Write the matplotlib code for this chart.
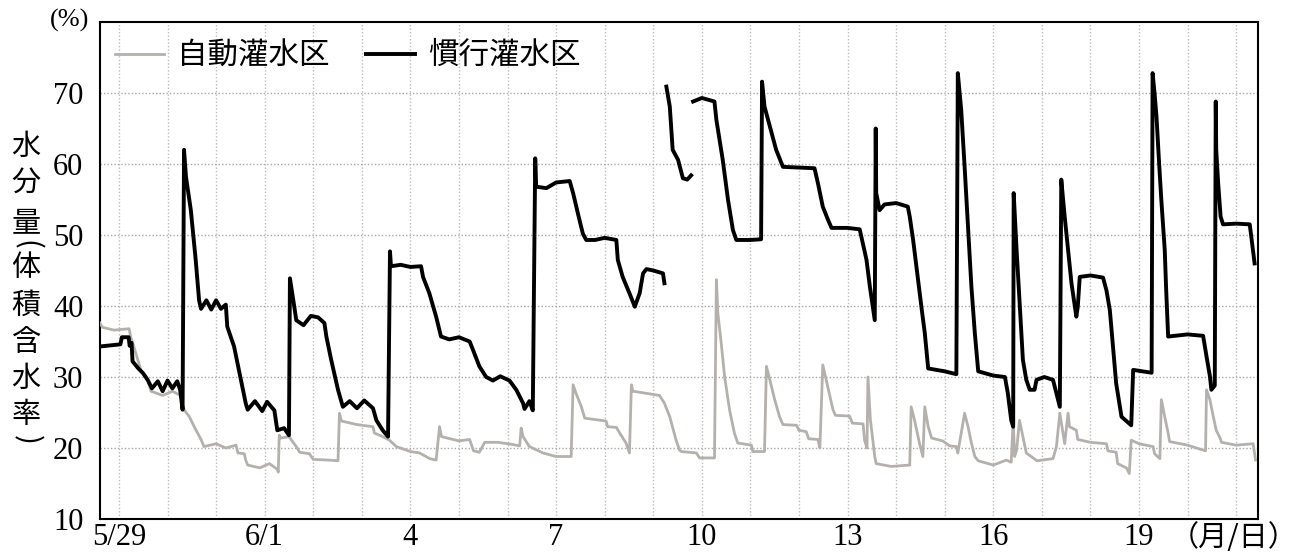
"""Soil water content: automatic vs. conventional irrigation plots."""

import numpy
from matplotlib import pyplot
from matplotlib.font_manager import FontProperties
from matplotlib.ticker import MultipleLocator

nan = numpy.nan

# Days counted from 5/29 0:00, volumetric water content (%).
day_auto = [-0.39, -0.34, -0.10, 0.21, 0.24, 0.35, 0.45, 0.59, 0.66, 0.90,
            1.10, 1.27, 1.34, 1.45, 1.55, 1.69, 1.75, 2.00, 2.20, 2.41,
            2.45, 2.58, 2.61, 2.65, 2.90, 3.10, 3.26, 3.28, 3.30, 3.33,
            3.50, 3.65, 3.72, 3.92, 4.00, 4.30, 4.51, 4.54, 4.58, 4.90,
            5.23, 5.26, 5.43, 5.57, 5.71, 6.00, 6.19, 6.40, 6.53, 6.60,
            6.64, 7.00, 7.22, 7.30, 7.42, 7.53, 7.80, 8.10, 8.25, 8.28,
            8.32, 8.45, 8.73, 9.00, 9.31, 9.35, 9.41, 9.52, 9.59, 10.03,
            10.06, 10.24, 10.31, 10.44, 10.51, 10.55, 10.58, 11.13, 11.23, 11.34,
            11.47, 11.54, 11.58, 11.89, 11.95, 12.26, 12.30, 12.33, 12.40, 12.47,
            12.57, 12.67, 12.74, 13.02, 13.05, 13.29, 13.33, 13.40, 13.50, 13.60,
            13.67, 13.95, 14.00, 14.15, 14.20, 14.39, 14.43, 14.49, 14.56, 14.70,
            14.75, 15.04, 15.10, 15.32, 15.35, 15.40, 15.42, 15.47, 15.56, 15.59,
            15.90, 16.28, 16.31, 16.38, 16.48, 16.55, 16.59, 16.66, 16.73, 16.96,
            17.10, 17.24, 17.27, 17.41, 17.48, 17.55, 17.62, 17.69, 18.00, 18.27,
            18.37, 18.41, 18.44, 18.48, 18.54, 18.61, 18.68, 18.90, 19.23, 19.30,
            19.37, 19.47, 19.54, 19.57, 19.71, 19.74, 20.00, 20.33, 20.36, 20.53,
            20.56, 20.74, 20.80, 20.84, 21.00, 21.29, 21.32, 21.43, 21.46, 21.53,
            21.60, 21.63, 22.00, 22.37, 22.39, 22.46, 22.53, 22.59, 22.67, 22.70,
            23.00, 23.35, 23.40]
val_auto = [37.6, 37.0, 36.6, 36.8, 35.7, 33.3, 31.0, 29.6, 28.0, 27.4,
            28.0, 27.4, 25.4, 24.4, 23.0, 21.2, 20.2, 20.6, 20.0, 20.4,
            19.3, 19.2, 18.3, 17.6, 17.2, 17.8, 17.0, 16.6, 21.8, 21.4,
            21.6, 20.2, 19.4, 19.2, 18.4, 18.3, 18.2, 24.9, 23.8, 23.3,
            23.0, 22.1, 21.6, 21.1, 20.2, 19.5, 19.3, 18.5, 18.3, 23.0,
            21.6, 21.0, 21.2, 19.6, 19.4, 20.8, 20.8, 20.5, 20.3, 22.8,
            21.6, 20.2, 19.3, 18.8, 18.8, 28.9, 27.7, 25.8, 24.2, 23.8,
            23.0, 22.9, 22.1, 20.7, 19.3, 28.9, 28.0, 27.4, 26.3, 24.4,
            21.1, 19.7, 19.5, 19.3, 18.6, 18.6, 43.7, 39.0, 34.7, 30.0,
            25.4, 22.1, 20.7, 20.4, 19.5, 19.5, 31.5, 29.6, 26.8, 24.4,
            23.3, 23.2, 22.5, 22.3, 21.3, 21.2, 20.0, 31.7, 29.6, 25.4,
            24.6, 24.5, 23.5, 23.4, 21.1, 20.0, 30.0, 24.0, 18.8, 17.8,
            17.4, 17.6, 25.8, 23.9, 20.7, 18.8, 25.8, 23.0, 21.4, 21.0,
            20.3, 20.2, 19.3, 24.9, 23.0, 20.7, 18.8, 18.2, 17.6, 18.3,
            18.0, 23.9, 18.8, 19.7, 23.9, 21.6, 19.3, 18.2, 18.5, 20.2,
            24.9, 20.6, 24.9, 23.0, 22.5, 21.2, 20.8, 20.6, 19.6, 19.4,
            17.8, 17.2, 16.4, 21.1, 20.6, 20.2, 19.2, 18.5, 26.8, 24.4,
            22.1, 20.9, 20.4, 19.6, 28.2, 26.8, 24.4, 22.5, 21.4, 20.8,
            20.4, 20.6, 18.3]

day_conv = [-0.39, 0.03, 0.06, 0.20, 0.22, 0.26, 0.28, 0.40, 0.50, 0.59,
            0.68, 0.80, 0.90, 1.00, 1.10, 1.20, 1.26, 1.31, 1.34, 1.38,
            1.48, 1.58, 1.65, 1.69, 1.80, 1.90, 2.00, 2.10, 2.20, 2.23,
            2.37, 2.51, 2.61, 2.65, 2.80, 2.95, 3.05, 3.20, 3.23, 3.26,
            3.40, 3.50, 3.52, 3.61, 3.65, 3.80, 3.95, 4.10, 4.23, 4.27,
            4.37, 4.51, 4.61, 4.75, 4.90, 5.05, 5.23, 5.30, 5.43, 5.54,
            5.58, 5.60, 5.80, 6.00, 6.22, 6.26, 6.39, 6.53, 6.63, 6.80,
            7.00, 7.22, 7.29, 7.42, 7.56, 7.70, 7.85, 8.04, 8.18, 8.32,
            8.35, 8.45, 8.52, 8.57, 8.59, 8.80, 9.00, 9.28, 9.35, 9.45,
            9.55, 9.62, 9.80, 10.00, 10.24, 10.27, 10.37, 10.51, 10.62, 10.72,
            10.79, 10.86, 11.00, 11.20, 11.23, nan, 11.27, 11.34, 11.40, 11.51,
            11.61, 11.70, 11.78, nan, 11.82, 12.00, 12.26, 12.30, 12.43, 12.54,
            12.64, 12.71, 13.00, 13.22, 13.24, 13.29, 13.40, 13.53, 13.67, 14.00,
            14.32, 14.39, 14.49, 14.60, 14.67, 15.00, 15.25, 15.39, 15.46, 15.52,
            15.56, 15.58, 15.59, 15.66, 15.76, 16.00, 16.24, 16.28, 16.35, 16.45,
            16.52, 16.59, 16.66, 17.00, 17.24, 17.27, 17.34, 17.41, 17.48, 17.55,
            17.62, 17.69, 18.00, 18.24, 18.30, 18.37, 18.41, 18.42, 18.48, 18.54,
            18.61, 18.68, 18.75, 18.85, 18.89, 19.05, 19.23, 19.30, 19.37, 19.40,
            19.47, 19.54, 19.61, 19.71, 19.74, 19.78, 20.00, 20.26, 20.33, 20.40,
            20.47, 20.53, 20.64, 20.84, 20.88, 21.26, 21.28, 21.32, 21.36, 21.41,
            21.46, 21.53, 21.56, 21.60, 22.00, 22.32, 22.39, 22.46, 22.49, 22.56,
            22.58, 22.59, 22.63, 22.68, 22.73, 23.00, 23.28, 23.32, 23.38]
val_conv = [34.3, 34.6, 35.6, 35.6, 34.4, 34.8, 32.2, 31.2, 30.5, 29.6,
            28.4, 29.4, 28.0, 29.5, 28.4, 29.4, 28.2, 25.4, 62.0, 58.2,
            53.5, 46.5, 40.8, 39.6, 40.8, 39.5, 40.8, 39.6, 40.2, 37.1,
            34.3, 29.6, 26.3, 25.4, 26.6, 25.2, 26.5, 25.3, 23.9, 22.5,
            22.8, 21.8, 43.9, 39.9, 38.0, 37.3, 38.6, 38.4, 37.6, 35.7,
            32.4, 28.2, 25.8, 26.6, 25.6, 26.7, 25.6, 23.9, 22.5, 21.6,
            47.7, 45.6, 45.8, 45.5, 45.6, 44.1, 41.8, 38.5, 35.7, 35.3,
            35.6, 35.0, 33.8, 31.5, 30.0, 29.5, 30.1, 29.5, 28.2, 26.3,
            25.5, 26.6, 25.3, 60.8, 56.8, 56.6, 57.4, 57.6, 55.9, 53.0,
            50.2, 49.3, 49.3, 49.6, 49.3, 46.5, 44.1, 41.8, 39.9, 41.8,
            44.6, 45.2, 45.0, 44.6, 43.2, nan, 70.9, 68.1, 62.0, 60.6,
            58.0, 57.8, 58.4, nan, 68.8, 69.3, 68.8, 66.2, 60.6, 54.9,
            50.7, 49.3, 49.3, 49.4, 71.6, 68.1, 65.3, 62.0, 59.6, 59.5,
            59.4, 57.3, 54.0, 52.1, 51.0, 51.0, 50.8, 46.5, 42.7, 39.9,
            38.0, 65.0, 55.9, 53.5, 54.3, 54.5, 54.0, 52.6, 49.3, 43.7,
            39.9, 36.2, 31.2, 30.8, 30.4, 72.8, 67.6, 59.6, 51.2, 42.7,
            36.2, 30.8, 30.2, 30.0, 27.7, 23.9, 23.0, 55.9, 47.9, 40.8,
            32.4, 29.6, 28.2, 28.2, 29.6, 30.0, 29.6, 27.7, 25.8, 57.8,
            52.6, 47.9, 43.2, 38.5, 39.9, 44.1, 44.3, 44.0, 42.2, 39.4,
            33.8, 29.1, 24.4, 23.2, 31.0, 30.6, 72.8, 70.0, 66.7, 60.6,
            54.9, 47.9, 42.2, 35.7, 36.0, 35.8, 32.9, 30.1, 28.2, 28.8,
            68.8, 62.0, 57.3, 52.6, 51.5, 51.6, 51.5, 49.3, 46.0]

tick_days = [0, 3, 6, 9, 12, 15, 18, 21]
tick_labels = ['5/29', '6/1', '4', '7', '10', '13', '16', '19']
y_ticks = [10, 20, 30, 40, 50, 60, 70]
series_names = ['自動灌水区', '慣行灌水区']
ylabel_chars = ['水', '分', '量', '(', '体', '積', '含', '水', '率', ')']

jp = 'Noto Sans CJK JP'
pyplot.rcParams['font.family'] = ['Liberation Serif', jp]

fig = pyplot.figure(figsize=(13.04, 5.56), dpi=100)
ax = fig.add_axes([100 / 1304, 1 - 519 / 556, 1158 / 1304, 497 / 556])

ax.plot(day_auto, val_auto, color='#b4b1ad', linewidth=2.0,
        label=series_names[0], zorder=3)
ax.plot(day_conv, val_conv, color='black', linewidth=2.8,
        label=series_names[1], zorder=4)

ax.set_xlim(-0.39, 23.45)
ax.set_ylim(10, 80)
ax.set_xticks(tick_days)
ax.set_xticklabels(tick_labels, fontsize=22)
ax.xaxis.set_minor_locator(MultipleLocator(1))
ax.set_yticks(y_ticks)
ax.tick_params(axis='y', labelsize=22, length=0, pad=12)
ax.tick_params(axis='x', length=0, pad=3)
ax.tick_params(which='minor', length=0)
ax.grid(which='both', axis='x', color='#bdbdbd', linewidth=1.0,
        linestyle=(0, (1, 1.5)))
ax.grid(which='major', axis='y', color='#a8a8a8', linewidth=1.0,
        linestyle=(0, (1, 1.5)))
for spine in ax.spines.values():
    spine.set_linewidth(1.5)

ax.legend(loc='center left', bbox_to_anchor=(0.013, 0.932), ncol=2,
          frameon=False, prop=FontProperties(family=jp, size=22),
          handlelength=1.6, handletextpad=0.43, columnspacing=1.2,
          borderpad=0.0, borderaxespad=0.0)

# Vertical y-axis title, one character per row; brackets turned upright.
ylabel_rows = [147, 183, 224, 245, 268, 306, 343, 379, 415, 440]
for char, row in zip(ylabel_chars, ylabel_rows):
    turn = -90 if char in '()' else 0
    fig.text(26 / 1304, 1 - row / 556, char, family=jp, fontsize=21,
             ha='center', va='center', rotation=turn)

fig.text(70 / 1304, 1 - 20 / 556, '(%)', fontsize=19, ha='center',
         va='center')
fig.text(1298 / 1304, 1 - 538 / 556, '（月/日）', family=jp, fontsize=21,
         ha='right', va='center')

fig.savefig('out.png', dpi=100)
